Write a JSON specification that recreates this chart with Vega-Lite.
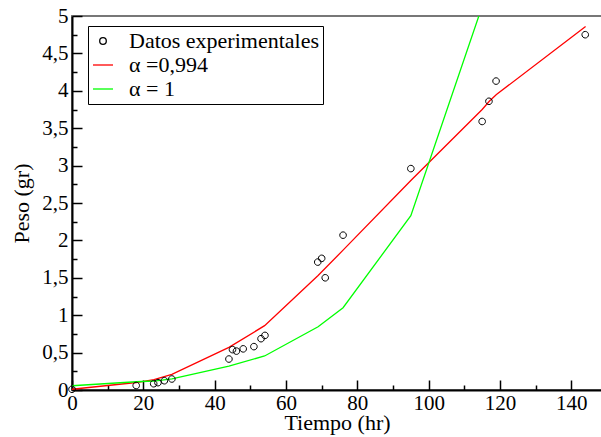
{
  "$schema": "https://vega.github.io/schema/vega-lite/v6.json",
  "width": 530,
  "height": 374,
  "autosize": {"type": "none"},
  "padding": {"left": 72, "top": 16, "right": 0, "bottom": 47},
  "background": "white",
  "config": {
    "locale": {"number": {"decimal": ",", "thousands": ".", "grouping": [3], "currency": ["", " €"]}},
    "view": {"stroke": "#777777", "strokeWidth": 2},
    "font": "Liberation Serif",
    "legend": {
      "orient": "none",
      "legendX": 16,
      "legendY": 10,
      "title": null,
      "labelFont": "Liberation Serif",
      "labelFontSize": 22,
      "labelColor": "black",
      "labelLimit": 400,
      "symbolSize": 400,
      "symbolStrokeWidth": 1.3,
      "strokeColor": "black",
      "fillColor": "white",
      "padding": 4,
      "rowPadding": 2,
      "labelOffset": 15
    }
  },
  "datasets": {
    "pts": [
      {"t": 0, "w": 0.01, "serie": "Datos experimentales"},
      {"t": 18.0, "w": 0.06, "serie": "Datos experimentales"},
      {"t": 22.9, "w": 0.084, "serie": "Datos experimentales"},
      {"t": 24.1, "w": 0.098, "serie": "Datos experimentales"},
      {"t": 25.9, "w": 0.124, "serie": "Datos experimentales"},
      {"t": 28.0, "w": 0.147, "serie": "Datos experimentales"},
      {"t": 44.0, "w": 0.414, "serie": "Datos experimentales"},
      {"t": 45.0, "w": 0.54, "serie": "Datos experimentales"},
      {"t": 46.1, "w": 0.52, "serie": "Datos experimentales"},
      {"t": 48.0, "w": 0.55, "serie": "Datos experimentales"},
      {"t": 51.0, "w": 0.58, "serie": "Datos experimentales"},
      {"t": 53.0, "w": 0.686, "serie": "Datos experimentales"},
      {"t": 54.1, "w": 0.73, "serie": "Datos experimentales"},
      {"t": 68.9, "w": 1.71, "serie": "Datos experimentales"},
      {"t": 70.0, "w": 1.76, "serie": "Datos experimentales"},
      {"t": 71.0, "w": 1.50, "serie": "Datos experimentales"},
      {"t": 76.0, "w": 2.07, "serie": "Datos experimentales"},
      {"t": 95.0, "w": 2.96, "serie": "Datos experimentales"},
      {"t": 115.0, "w": 3.59, "serie": "Datos experimentales"},
      {"t": 116.9, "w": 3.86, "serie": "Datos experimentales"},
      {"t": 118.9, "w": 4.13, "serie": "Datos experimentales"},
      {"t": 143.9, "w": 4.75, "serie": "Datos experimentales"}
    ],
    "lines": [
      {"t": 0, "w": 0.01, "serie": "α =0,994"},
      {"t": 18, "w": 0.10, "serie": "α =0,994"},
      {"t": 23, "w": 0.14, "serie": "α =0,994"},
      {"t": 28, "w": 0.21, "serie": "α =0,994"},
      {"t": 44, "w": 0.57, "serie": "α =0,994"},
      {"t": 54, "w": 0.86, "serie": "α =0,994"},
      {"t": 69, "w": 1.53, "serie": "α =0,994"},
      {"t": 76, "w": 1.87, "serie": "α =0,994"},
      {"t": 95, "w": 2.80, "serie": "α =0,994"},
      {"t": 115, "w": 3.75, "serie": "α =0,994"},
      {"t": 117, "w": 3.86, "serie": "α =0,994"},
      {"t": 119, "w": 3.95, "serie": "α =0,994"},
      {"t": 144, "w": 4.86, "serie": "α =0,994"},
      {"t": 0, "w": 0.057, "serie": "α = 1"},
      {"t": 18, "w": 0.11, "serie": "α = 1"},
      {"t": 23, "w": 0.12, "serie": "α = 1"},
      {"t": 28, "w": 0.15, "serie": "α = 1"},
      {"t": 44, "w": 0.32, "serie": "α = 1"},
      {"t": 54, "w": 0.455, "serie": "α = 1"},
      {"t": 69, "w": 0.846, "serie": "α = 1"},
      {"t": 76, "w": 1.10, "serie": "α = 1"},
      {"t": 95, "w": 2.33, "serie": "α = 1"},
      {"t": 115, "w": 5.13, "serie": "α = 1"}
    ]
  },
  "encoding": {
    "x": {
      "field": "t", "type": "quantitative",
      "scale": {"domain": [0, 148.6], "nice": false, "zero": false},
      "axis": {
        "values": [0, 10, 20, 30, 40, 50, 60, 70, 80, 90, 100, 110, 120, 130, 140],
        "format": "d",
        "labelExpr": "datum.value % 20 === 0 ? datum.label : ''",
        "tickSize": {"condition": {"test": "datum.value % 20 === 0", "value": -10}, "value": -5},
        "tickColor": "black", "tickWidth": 1.5,
        "domainColor": "black", "domainWidth": 2,
        "labelFont": "Liberation Serif", "labelFontSize": 21, "labelColor": "black",
        "labelPadding": 12, "labelFlush": false, "labelOverlap": false,
        "grid": false,
        "title": "Tiempo (hr)", "titleFont": "Liberation Serif", "titleFontSize": 22,
        "titleFontWeight": "normal", "titleColor": "black", "titlePadding": -6
      }
    },
    "y": {
      "field": "w", "type": "quantitative",
      "scale": {"domain": [0, 5], "nice": false},
      "axis": {
        "values": [0, 0.25, 0.5, 0.75, 1, 1.25, 1.5, 1.75, 2, 2.25, 2.5, 2.75, 3, 3.25, 3.5, 3.75, 4, 4.25, 4.5, 4.75, 5],
        "format": ".1~f",
        "labelExpr": "(datum.value * 4) % 2 === 0 ? datum.label : ''",
        "tickSize": {"condition": {"test": "(datum.value * 4) % 2 === 0", "value": -10}, "value": -5},
        "tickColor": "black", "tickWidth": 1.5,
        "domainColor": "black", "domainWidth": 2,
        "labelFont": "Liberation Serif", "labelFontSize": 21, "labelColor": "black",
        "labelPadding": 14, "labelFlush": false, "labelOverlap": false,
        "grid": false,
        "title": "Peso (gr)", "titleFont": "Liberation Serif", "titleFontSize": 22,
        "titleFontWeight": "normal", "titleColor": "black", "titlePadding": 8
      }
    }
  },
  "layer": [
    {
      "data": {"name": "lines"},
      "mark": {"type": "line", "strokeWidth": 1.3, "clip": true},
      "encoding": {
        "color": {
          "field": "serie", "type": "nominal",
          "scale": {"domain": ["Datos experimentales", "α =0,994", "α = 1"], "range": ["black", "#ff0000", "#00ff00"]}
        }
      }
    },
    {
      "data": {"name": "pts"},
      "mark": {"type": "point", "filled": false, "strokeWidth": 1, "size": 400, "opacity": 1},
      "encoding": {
        "color": {"field": "serie", "type": "nominal"},
        "shape": {
          "field": "serie", "type": "nominal",
          "scale": {"domain": ["Datos experimentales", "α =0,994", "α = 1"], "range": ["M -0.33 0 A 0.33 0.33 0 1 0 0.33 0 A 0.33 0.33 0 1 0 -0.33 0 Z", "stroke", "stroke"]}
        }
      }
    }
  ]
}
